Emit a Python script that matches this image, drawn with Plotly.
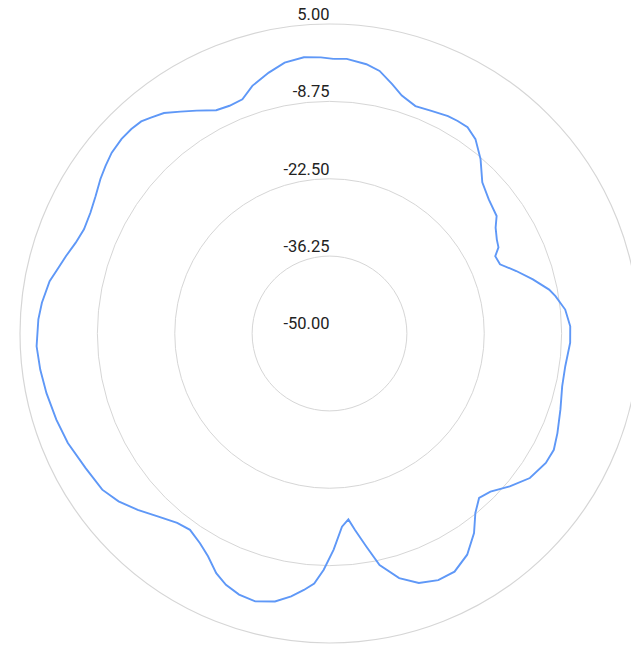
import plotly.graph_objects as go

# Radial tick values (dB) and their labels
tick_values = [-50.0, -36.25, -22.5, -8.75, 5.0]
tick_labels = [f"{v:.2f}" for v in tick_values]

# Pattern: angle in degrees (clockwise from top), gain in dB
angles = [0.8, 3.6, 7.8, 10.8, 14.1, 16.9, 20.7, 24.6, 28.6, 31.1,
          33.8, 36.9, 40.9, 45.3, 49.9, 54.9, 57.5, 60.7, 63.0, 65.0, 67.9, 71.5,
          75.1, 78.7, 80.6, 84.2, 88.3, 92.2, 97.9, 102.8, 108.2, 113.6,
          117.4, 120.9, 125.8, 130.3, 134.5, 137.7, 140.9, 144.1, 148.1, 152.3,
          156.2, 160.3, 164.1, 167.8, 170.2, 172.6, 174.2, 176.3, 178.9, 181.4,
          183.5, 185.7, 188.3, 191.5, 195.5, 199.1, 202.4, 205.3, 208.6, 211.7,
          215.4, 218.8, 223.2, 227.4, 231.5, 235.5, 241.1, 247.3, 252.5, 258.1,
          262.9, 267.5, 272.8, 276.1, 280.6, 282.9, 286.4, 289.7, 293.0, 296.8,
          300.4, 304.0, 306.8, 309.7, 313.1, 315.9, 318.4, 320.4, 323.1, 326.1,
          329.2, 333.1, 336.3, 339.6, 342.7, 346.9, 350.6, 354.7, 358.2]
gain_db = [-1.2, -1.1, -1.7, -2.5, -4.3, -5.8, -6.8, -6.5, -6.0, -5.9,
           -5.9, -6.8, -9.0, -11.8, -13.0, -13.7, -15.0, -15.9, -16.3, -17.5, -17.3, -15.0,
           -12.6, -10.2, -9.3, -7.9, -7.2, -7.2, -7.7, -7.6, -6.8, -5.8,
           -5.1, -5.2, -6.1, -8.0, -9.9, -10.5, -8.9, -6.2, -3.7, -2.2,
           -2.1, -2.9, -4.8, -7.9, -11.6, -14.8, -16.8, -15.6, -11.6, -8.0,
           -5.5, -4.2, -2.8, -1.4, -0.6, -0.9, -1.7, -2.9, -4.9, -6.2,
           -7.2, -6.8, -5.4, -3.7, -2.1, -1.0, -0.5, 0.4, 0.9, 1.4,
           1.8, 2.1, 1.8, 1.4, 0.6, -0.2, -1.2, -2.1, -2.6, -2.4,
           -1.8, -0.9, -0.3, 0.3, 0.6, 0.6, 0.4, -0.2, -1.0, -2.5,
           -3.9, -5.5, -5.8, -5.6, -3.9, -2.4, -1.2, -0.7, -0.9]

fig = go.Figure()
fig.add_trace(go.Scatterpolar(
    r=gain_db + gain_db[:1],
    theta=angles + angles[:1],
    mode="lines",
    line=dict(color="#5f98f7", width=1.9),
    hoverinfo="skip",
    showlegend=False,
))
fig.add_trace(go.Scatterpolar(
    r=tick_values,
    theta=[0] * len(tick_values),
    mode="text",
    text=tick_labels,
    textposition="top left",
    textfont=dict(family="Roboto, Arial, sans-serif", size=16.5, color="#222222"),
    cliponaxis=False,
    hoverinfo="skip",
    showlegend=False,
))
fig.update_layout(
    width=631, height=637,
    margin=dict(l=12, r=0, t=16, b=2),
    paper_bgcolor="white",
    polar=dict(
        bgcolor="white",
        radialaxis=dict(
            range=[-50, 5], tickvals=tick_values, showticklabels=False,
            ticks="", showline=False, gridcolor="#d6d6d6", gridwidth=1.2,
        ),
        angularaxis=dict(
            rotation=90, direction="clockwise", showgrid=False,
            showticklabels=False, ticks="", showline=True,
            linecolor="#d6d6d6", linewidth=1.2,
        ),
    ),
)
fig.write_html("out.html")
